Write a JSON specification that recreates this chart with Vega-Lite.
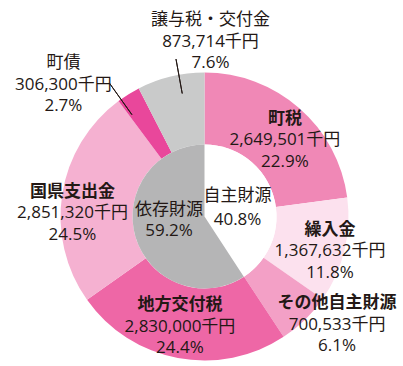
{
  "$schema": "https://vega.github.io/schema/vega-lite/v6.json",
  "width": 397,
  "height": 299,
  "autosize": {"type": "none"},
  "padding": {"left": 6, "top": 67, "right": 0, "bottom": 0},
  "background": "#ffffff",
  "view": {"stroke": null},
  "config": {"text": {"font": "Noto Sans CJK JP", "fontSize": 17, "color": "#231815"}},
  "datasets": {
    "outer": [
      {"name": "町税", "value": 2649501, "figures": "2,649,501千円\n22.9%", "order": 1},
      {"name": "繰入金", "value": 1367632, "figures": "1,367,632千円\n11.8%", "order": 2},
      {"name": "その他自主財源", "value": 700533, "figures": "700,533千円\n6.1%", "order": 3},
      {"name": "地方交付税", "value": 2830000, "figures": "2,830,000千円\n24.4%", "order": 4},
      {"name": "国県支出金", "value": 2851320, "figures": "2,851,320千円\n24.5%", "order": 5},
      {"name": "町債", "value": 306300, "figures": "306,300千円\n2.7%", "order": 6},
      {"name": "譲与税・交付金", "value": 873714, "figures": "873,714千円\n7.6%", "order": 7}
    ],
    "inner": [
      {"name": "自主財源", "share": 40.8, "label": "自主財源\n40.8%", "order": 1},
      {"name": "依存財源", "share": 59.2, "label": "依存財源\n59.2%", "order": 2}
    ]
  },
  "resolve": {"scale": {"theta": "independent"}},
  "layer": [
    {
      "data": {"name": "outer"},
      "mark": {"type": "arc", "radius": 144, "radius2": 72},
      "encoding": {
        "theta": {"field": "value", "type": "quantitative", "stack": true},
        "order": {"field": "order", "type": "quantitative"},
        "color": {"field": "name", "type": "nominal", "legend": null,
          "scale": {"domain": ["町税", "繰入金", "その他自主財源", "地方交付税", "国県支出金", "町債", "譲与税・交付金", "自主財源", "依存財源"],
                    "range": ["#f088b6", "#fce1ee", "#f3a0c6", "#ee67a6", "#f5b1d1", "#e9479b", "#c9caca", "#ffffff", "#b5b5b6"]}}
      }
    },
    {
      "data": {"name": "inner"},
      "mark": {"type": "arc", "radius": 72},
      "encoding": {
        "theta": {"field": "share", "type": "quantitative", "stack": true},
        "order": {"field": "order", "type": "quantitative"},
        "color": {"field": "name", "type": "nominal", "legend": null,
          "scale": {"domain": ["町税", "繰入金", "その他自主財源", "地方交付税", "国県支出金", "町債", "譲与税・交付金", "自主財源", "依存財源"],
                    "range": ["#f088b6", "#fce1ee", "#f3a0c6", "#ee67a6", "#f5b1d1", "#e9479b", "#c9caca", "#ffffff", "#b5b5b6"]}}
      }
    },
    {
      "data": {"name": "outer"},
      "transform": [
        {"stack": "value", "groupby": [], "sort": [{"field": "order", "order": "ascending"}], "as": ["v0", "v1"]},
        {"filter": "datum.name === '町債'"}
      ],
      "mark": {"type": "arc", "filled": false, "color": "#231815", "strokeWidth": 1, "radius": 164, "radius2": 125, "thetaOffset": 0.021, "theta2Offset": 0.021},
      "encoding": {
        "theta": {"field": "v0", "type": "quantitative", "scale": {"domain": [0, 11579000]}},
        "theta2": {"field": "v0"}
      }
    },
    {
      "data": {"name": "outer"},
      "transform": [
        {"stack": "value", "groupby": [], "sort": [{"field": "order", "order": "ascending"}], "as": ["v0", "v1"]},
        {"filter": "datum.name === '譲与税・交付金'"}
      ],
      "mark": {"type": "arc", "filled": false, "color": "#231815", "strokeWidth": 1, "radius": 160, "radius2": 125, "thetaOffset": -0.17914, "theta2Offset": -0.17914},
      "encoding": {
        "theta": {"field": "v1", "type": "quantitative", "scale": {"domain": [0, 11579000]}},
        "theta2": {"field": "v1"}
      }
    },
    {
      "data": {"name": "outer"},
      "mark": {"type": "text", "radius": 113, "thetaOffset": 0.0728, "dy": -18.5, "fontWeight": "bold"},
      "encoding": {
        "theta": {"field": "value", "type": "quantitative", "stack": true},
        "order": {"field": "order", "type": "quantitative"},
        "text": {"condition": {"test": "datum.name === '町税'", "field": "name", "type": "nominal"}, "value": ""}
      }
    },
    {
      "data": {"name": "outer"},
      "mark": {"type": "text", "radius": 113, "thetaOffset": 0.0728, "dy": 3, "lineBreak": "\n", "lineHeight": 21.5, "font": "Open Sans, Noto Sans CJK JP"},
      "encoding": {
        "theta": {"field": "value", "type": "quantitative", "stack": true},
        "order": {"field": "order", "type": "quantitative"},
        "text": {"condition": {"test": "datum.name === '町税'", "field": "figures", "type": "nominal"}, "value": ""}
      }
    },
    {
      "data": {"name": "outer"},
      "mark": {"type": "text", "radius": 129.5, "thetaOffset": 0.0115, "dy": -18.5, "fontWeight": "bold"},
      "encoding": {
        "theta": {"field": "value", "type": "quantitative", "stack": true},
        "order": {"field": "order", "type": "quantitative"},
        "text": {"condition": {"test": "datum.name === '繰入金'", "field": "name", "type": "nominal"}, "value": ""}
      }
    },
    {
      "data": {"name": "outer"},
      "mark": {"type": "text", "radius": 129.5, "thetaOffset": 0.0115, "dy": 3, "lineBreak": "\n", "lineHeight": 21.5, "font": "Open Sans, Noto Sans CJK JP"},
      "encoding": {
        "theta": {"field": "value", "type": "quantitative", "stack": true},
        "order": {"field": "order", "type": "quantitative"},
        "text": {"condition": {"test": "datum.name === '繰入金'", "field": "figures", "type": "nominal"}, "value": ""}
      }
    },
    {
      "data": {"name": "outer"},
      "mark": {"type": "text", "radius": 169.4, "thetaOffset": -0.127, "dy": -18.5, "fontWeight": "bold"},
      "encoding": {
        "theta": {"field": "value", "type": "quantitative", "stack": true},
        "order": {"field": "order", "type": "quantitative"},
        "text": {"condition": {"test": "datum.name === 'その他自主財源'", "field": "name", "type": "nominal"}, "value": ""}
      }
    },
    {
      "data": {"name": "outer"},
      "mark": {"type": "text", "radius": 169.4, "thetaOffset": -0.127, "dy": 3, "lineBreak": "\n", "lineHeight": 21.5, "font": "Open Sans, Noto Sans CJK JP"},
      "encoding": {
        "theta": {"field": "value", "type": "quantitative", "stack": true},
        "order": {"field": "order", "type": "quantitative"},
        "text": {"condition": {"test": "datum.name === 'その他自主財源'", "field": "figures", "type": "nominal"}, "value": ""}
      }
    },
    {
      "data": {"name": "outer"},
      "mark": {"type": "text", "radius": 110, "thetaOffset": 0.039, "dy": -18.5, "fontWeight": "bold"},
      "encoding": {
        "theta": {"field": "value", "type": "quantitative", "stack": true},
        "order": {"field": "order", "type": "quantitative"},
        "text": {"condition": {"test": "datum.name === '地方交付税'", "field": "name", "type": "nominal"}, "value": ""}
      }
    },
    {
      "data": {"name": "outer"},
      "mark": {"type": "text", "radius": 110, "thetaOffset": 0.039, "dy": 3, "lineBreak": "\n", "lineHeight": 21.5, "font": "Open Sans, Noto Sans CJK JP"},
      "encoding": {
        "theta": {"field": "value", "type": "quantitative", "stack": true},
        "order": {"field": "order", "type": "quantitative"},
        "text": {"condition": {"test": "datum.name === '地方交付税'", "field": "figures", "type": "nominal"}, "value": ""}
      }
    },
    {
      "data": {"name": "outer"},
      "mark": {"type": "text", "radius": 132.2, "thetaOffset": -0.108, "dy": -18.5, "fontWeight": "bold"},
      "encoding": {
        "theta": {"field": "value", "type": "quantitative", "stack": true},
        "order": {"field": "order", "type": "quantitative"},
        "text": {"condition": {"test": "datum.name === '国県支出金'", "field": "name", "type": "nominal"}, "value": ""}
      }
    },
    {
      "data": {"name": "outer"},
      "mark": {"type": "text", "radius": 132.2, "thetaOffset": -0.108, "dy": 3, "lineBreak": "\n", "lineHeight": 21.5, "font": "Open Sans, Noto Sans CJK JP"},
      "encoding": {
        "theta": {"field": "value", "type": "quantitative", "stack": true},
        "order": {"field": "order", "type": "quantitative"},
        "text": {"condition": {"test": "datum.name === '国県支出金'", "field": "figures", "type": "nominal"}, "value": ""}
      }
    },
    {
      "data": {"name": "outer"},
      "mark": {"type": "text", "radius": 195, "thetaOffset": -0.2517, "dy": -18.5},
      "encoding": {
        "theta": {"field": "value", "type": "quantitative", "stack": true},
        "order": {"field": "order", "type": "quantitative"},
        "text": {"condition": {"test": "datum.name === '町債'", "field": "name", "type": "nominal"}, "value": ""}
      }
    },
    {
      "data": {"name": "outer"},
      "mark": {"type": "text", "radius": 195, "thetaOffset": -0.2517, "dy": 3, "lineBreak": "\n", "lineHeight": 21.5, "font": "Open Sans, Noto Sans CJK JP"},
      "encoding": {
        "theta": {"field": "value", "type": "quantitative", "stack": true},
        "order": {"field": "order", "type": "quantitative"},
        "text": {"condition": {"test": "datum.name === '町債'", "field": "figures", "type": "nominal"}, "value": ""}
      }
    },
    {
      "data": {"name": "outer"},
      "mark": {"type": "text", "radius": 178, "thetaOffset": 0.2707, "dy": -18.5},
      "encoding": {
        "theta": {"field": "value", "type": "quantitative", "stack": true},
        "order": {"field": "order", "type": "quantitative"},
        "text": {"condition": {"test": "datum.name === '譲与税・交付金'", "field": "name", "type": "nominal"}, "value": ""}
      }
    },
    {
      "data": {"name": "outer"},
      "mark": {"type": "text", "radius": 178, "thetaOffset": 0.2707, "dy": 3, "lineBreak": "\n", "lineHeight": 21.5, "font": "Open Sans, Noto Sans CJK JP"},
      "encoding": {
        "theta": {"field": "value", "type": "quantitative", "stack": true},
        "order": {"field": "order", "type": "quantitative"},
        "text": {"condition": {"test": "datum.name === '譲与税・交付金'", "field": "figures", "type": "nominal"}, "value": ""}
      }
    },
    {
      "data": {"name": "inner"},
      "mark": {"type": "text", "radius": 35, "thetaOffset": -0.046, "dy": -9, "lineBreak": "\n", "lineHeight": 24, "font": "Open Sans, Noto Sans CJK JP"},
      "encoding": {
        "theta": {"field": "share", "type": "quantitative", "stack": true},
        "order": {"field": "order", "type": "quantitative"},
        "text": {"condition": {"test": "datum.name === '自主財源'", "field": "label", "type": "nominal"}, "value": ""}
      }
    },
    {
      "data": {"name": "inner"},
      "mark": {"type": "text", "radius": 35.5, "thetaOffset": 0.247, "dy": -7.5, "lineBreak": "\n", "lineHeight": 21, "font": "Open Sans, Noto Sans CJK JP"},
      "encoding": {
        "theta": {"field": "share", "type": "quantitative", "stack": true},
        "order": {"field": "order", "type": "quantitative"},
        "text": {"condition": {"test": "datum.name === '依存財源'", "field": "label", "type": "nominal"}, "value": ""}
      }
    }
  ]
}
